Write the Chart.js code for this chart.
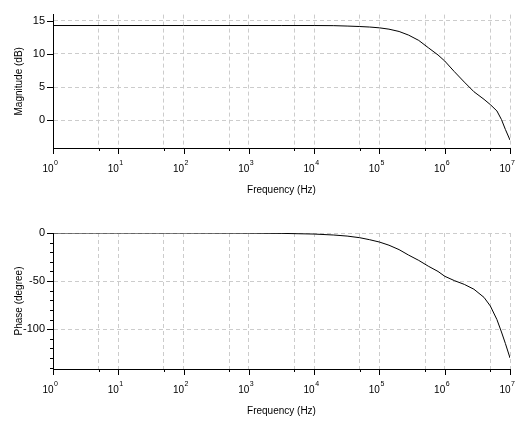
<!DOCTYPE html>
<html>
<head>
<meta charset="utf-8">
<script src="https://cdn.jsdelivr.net/npm/chart.js@4"></script>
<style>
  html, body { margin: 0; padding: 0; background: #fff; }
  #wrap { position: relative; width: 531px; height: 422px; }
  canvas { position: absolute; left: 0; }
</style>
</head>
<body>
<div id="wrap">
  <canvas id="mag" width="531" height="211" style="top:0"></canvas>
  <canvas id="phase" width="531" height="211" style="top:211px"></canvas>
</div>
<script>
// Bode plot: one frequency list shared by both curves.
const FREQ_HZ = [1, 10, 100, 1e3, 3.2e3, 1e4, 2e4, 3.2e4, 5e4, 7.1e4,
  1e5, 1.4e5, 2e5, 2.8e5, 4e5, 5.6e5, 7.9e5,
  1e6, 1.4e6, 2e6, 2.8e6, 4e6, 5e6, 6.3e6, 7.4e6, 8.5e6, 1e7];
const MAGNITUDE_DB = [14.3, 14.3, 14.3, 14.3, 14.3, 14.3, 14.28, 14.22, 14.15, 14.07,
  13.95, 13.75, 13.4, 12.85, 12.05, 10.95, 9.85,
  8.94, 7.35, 5.75, 4.3, 3.15, 2.35, 1.4, 0.1, -1.4, -3.0];
const PHASE_DEG = [0, 0, 0, -0.1, -0.4, -1.1, -2.1, -3.2, -4.9, -7,
  -9.4, -12.7, -17.3, -23, -28.5, -34.5, -40,
  -45, -49.5, -53.5, -58.5, -67, -76, -90, -103, -115, -130];

// Axis ticks
const X_DECADES = [0, 1, 2, 3, 4, 5, 6, 7];
const MAG_TICKS = [0, 5, 10, 15];
const PHASE_TICKS = [0, -50, -100];
const PHASE_MINOR = [-10, -20, -30, -40, -60, -70, -80, -90, -110, -120, -130, -140];

const GRID = "#cccccc";
const FONT = '"Liberation Sans", Arial, sans-serif';

Chart.defaults.font.family = FONT;
Chart.defaults.color = "#000";

// grid at 10^n and 5*10^n
const xGridValues = [];
X_DECADES.forEach((e) => {
  xGridValues.push(10 ** e);
  if (e < 7) xGridValues.push(5 * 10 ** e);
});

// Scilab-style tick marks and "10^n" labels drawn on top of the chart
const axisMarks = {
  id: "axisMarks",
  afterDraw(chart, args, opts) {
    const { ctx, chartArea: a, scales: { x, y } } = chart;
    ctx.save();
    ctx.strokeStyle = "#000";
    ctx.lineWidth = 1;
    ctx.beginPath();
    X_DECADES.forEach((e) => {
      const px = Math.round(x.getPixelForValue(10 ** e)) + 0.5;
      ctx.moveTo(px, a.bottom);
      ctx.lineTo(px, a.bottom + 6);
      if (e < 7) {
        const pm = Math.round(x.getPixelForValue(5 * 10 ** e)) + 0.5;
        ctx.moveTo(pm, a.bottom);
        ctx.lineTo(pm, a.bottom + 3);
      }
    });
    opts.major.forEach((v) => {
      const py = Math.round(y.getPixelForValue(v)) + 0.5;
      ctx.moveTo(a.left - 6, py);
      ctx.lineTo(a.left, py);
    });
    (opts.minor || []).forEach((v) => {
      const py = Math.round(y.getPixelForValue(v)) + 0.5;
      ctx.moveTo(a.left - 3, py);
      ctx.lineTo(a.left, py);
    });
    ctx.stroke();

    ctx.fillStyle = "#000";
    ctx.textBaseline = "alphabetic";
    X_DECADES.forEach((e) => {
      const px = x.getPixelForValue(10 ** e);
      ctx.font = "10px " + FONT;
      ctx.textAlign = "right";
      ctx.fillText("10", px + 0.5, a.bottom + 24);
      ctx.font = "7px " + FONT;
      ctx.textAlign = "left";
      ctx.fillText(String(e), px + 1, a.bottom + 16.5);
    });
    ctx.restore();
  },
};

function makeChart(id, values, cfg) {
  return new Chart(document.getElementById(id), {
    type: "line",
    data: {
      datasets: [{
        data: FREQ_HZ.map((f, i) => ({ x: f, y: values[i] })),
        borderColor: "#000",
        borderWidth: 1,
        pointRadius: 0,
        tension: 0,
        fill: false,
      }],
    },
    plugins: [axisMarks],
    options: {
      responsive: false,
      animation: false,
      devicePixelRatio: 1,
      layout: { padding: { top: cfg.top, right: 21, bottom: 0, left: 0 } },
      plugins: {
        legend: { display: false },
        tooltip: { enabled: false },
        axisMarks: { major: cfg.ticks, minor: cfg.minor },
      },
      scales: {
        x: {
          type: "logarithmic",
          min: 1,
          max: 1e7,
          afterBuildTicks: (s) => { s.ticks = xGridValues.map((v) => ({ value: v })); },
          afterFit: (s) => { s.height = cfg.xHeight; },
          ticks: { display: false },
          grid: { color: GRID, drawTicks: false },
          border: { color: "#000", dash: [4, 3] },
          title: {
            display: true,
            text: "Frequency (Hz)",
            font: { size: 10 },
            padding: { top: 0, bottom: cfg.titlePad },
          },
        },
        y: {
          min: cfg.min,
          max: cfg.max,
          afterBuildTicks: (s) => { s.ticks = cfg.ticks.map((v) => ({ value: v })); },
          afterFit: (s) => { s.width = 53; },
          ticks: { padding: 8, font: { size: 11 } },
          grid: { color: GRID, drawTicks: false },
          border: { color: "#000", dash: [4, 3] },
          title: {
            display: true,
            text: cfg.yTitle,
            font: { size: 10 },
            padding: { top: 13, bottom: 0 },
          },
        },
      },
    },
  });
}

makeChart("mag", MAGNITUDE_DB, {
  top: 13, xHeight: 63, titlePad: 15,
  min: -4.2, max: 15.95, ticks: MAG_TICKS, minor: [],
  yTitle: "Magnitude (dB)",
});

makeChart("phase", PHASE_DEG, {
  top: 22, xHeight: 53, titlePad: 5,
  min: -141.5, max: 0, ticks: PHASE_TICKS, minor: PHASE_MINOR,
  yTitle: "Phase (degree)",
});
</script>
</body>
</html>
